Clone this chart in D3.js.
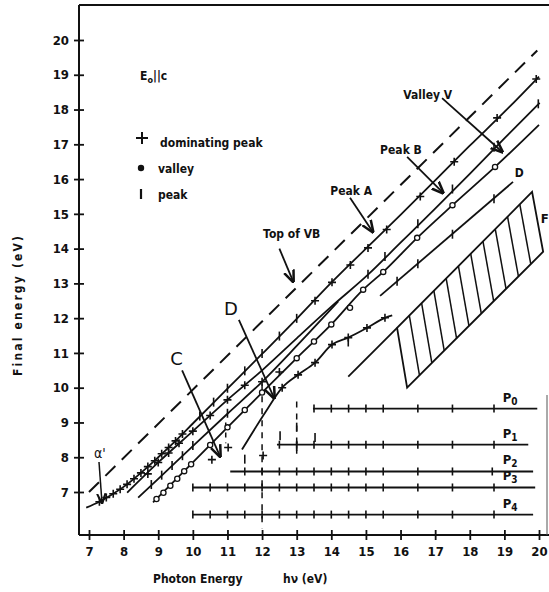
<!DOCTYPE html>
<html>
<head>
<meta charset="utf-8">
<script src="https://cdn.jsdelivr.net/npm/d3@7"></script>
<style>
  body { margin: 0; background: #fff; }
  text { font-family: "DejaVu Sans Condensed", "Liberation Sans Narrow", sans-serif; font-weight: bold; fill: #111; }
</style>
</head>
<body>
<div id="chart"></div>
<script>
// axis ticks
const xTicks = [7, 8, 9, 10, 11, 12, 13, 14, 15, 16, 17, 18, 19, 20];
const yTicks = [7, 8, 9, 10, 11, 12, 13, 14, 15, 16, 17, 18, 19, 20];

// lines, [hv, final energy]
const topOfVB = [[7.0, 7.0], [19.95, 19.7]];
const peakA = [[6.92, 6.55], [7.3, 6.72], [7.7, 6.95], [8.1, 7.22], [8.5, 7.55], [9.0, 8.0], [9.5, 8.47], [10, 8.97], [11, 9.97], [12, 10.97], [13, 11.98], [14, 13.02], [15, 14.0], [16, 14.97], [17, 15.96], [18, 16.96], [19, 17.93], [20, 18.95]];
const peakB = [[8.1, 6.98], [9, 7.85], [10, 8.75], [11, 9.65], [12, 10.5], [13, 11.42], [14, 12.33], [15.06, 13.25], [16, 14.17], [17, 15.15], [18, 16.15], [19, 17.17], [20.02, 18.19]];
const sideLine = [[8.42, 6.84], [9, 7.38], [10, 8.32], [11, 9.25], [12, 10.17], [13, 11.2], [14.2, 12.48]];
const valleyLine = [[8.85, 6.7], [10, 7.85], [11, 8.86], [12, 9.86], [13, 10.85], [14, 11.82], [14.92, 12.82], [15.5, 13.33], [16.48, 14.31], [17.5, 15.25], [18.73, 16.35], [20, 17.56]];
const lineD = [[15.41, 12.64], [19.25, 15.92]];
const lowerCurve = [[11.42, 8.22], [12.1, 9.3], [12.58, 10.0], [13.04, 10.37], [13.53, 10.72], [14.02, 11.24], [14.49, 11.44], [15.03, 11.72], [15.55, 12.01], [15.76, 12.08]];
const edgeLine = [[14.49, 10.32], [15.9, 11.72]];
const regionF = [[15.9, 11.72], [16.19, 10.0], [20.12, 13.91], [19.8, 15.63]];

// markers
const domPeaks = [[7.3, 6.72], [7.5, 6.84], [7.7, 6.95], [7.9, 7.08], [8.1, 7.22], [8.3, 7.38], [8.5, 7.55], [8.7, 7.73], [8.9, 7.9], [9.1, 8.1], [9.3, 8.28], [9.5, 8.47], [9.7, 8.67],
  [8.7, 7.52], [9.0, 7.85], [9.3, 8.12], [9.6, 8.4], [10.0, 8.75], [10.5, 9.2], [11.0, 9.65], [11.5, 10.07], [12.0, 10.17], [12.5, 10.45],
  [13.53, 12.5], [14.02, 13.03], [14.55, 13.53], [15.06, 14.02], [15.6, 14.55], [16.57, 15.5], [17.55, 16.5], [18.79, 17.76], [19.92, 18.88],
  [12.58, 10.0], [13.04, 10.37], [13.53, 10.72], [14.02, 11.24], [14.49, 11.44], [15.03, 11.72], [15.55, 12.01],
  [10.55, 7.93], [11.02, 8.28], [12.03, 8.05]];
const valleys = [[8.95, 6.8], [9.15, 6.98], [9.35, 7.18], [9.55, 7.38], [9.75, 7.6], [9.95, 7.8], [10.5, 8.35], [11.0, 8.86], [11.5, 9.36], [12.0, 9.86], [13.0, 10.85], [13.5, 11.33], [14.0, 11.82], [14.54, 12.3], [14.92, 12.82], [15.5, 13.33], [16.48, 14.31], [17.5, 15.25], [18.73, 16.35]];
const peaks = [[10.2, 9.17], [10.6, 9.57], [11.0, 9.97], [11.5, 10.47], [12.0, 10.97], [12.5, 11.47], [13.0, 11.98],
  [8.8, 7.2], [9.1, 7.47], [9.4, 7.75], [9.7, 8.03], [10.0, 8.32], [11.0, 9.25],
  [15.06, 13.25], [15.55, 13.76], [16.5, 14.7], [17.5, 15.7], [18.7, 16.9], [19.98, 18.15],
  [15.9, 13.05], [16.5, 13.55], [17.5, 14.4], [18.7, 15.42], [14.49, 11.3],
  [11.5, 7.93], [12.52, 8.6], [13.0, 8.85], [13.0, 8.3], [13.53, 8.55]];

// horizontal P lines
const pNames = ["P0", "P1", "P2", "P3", "P4"];
const pEnergy = [9.4, 8.36, 7.59, 7.13, 6.35];
const pStart = [13.47, 12.43, 11.08, 10.0, 10.0];
const pEnd = [19.95, 19.69, 19.83, 19.89, 19.83];
const pTicks = [
  [13.5, 14, 14.5, 15, 15.5, 16.5, 17.5, 18.7],
  [12.5, 13, 13.5, 14, 14.5, 15, 15.5, 16.5, 17.5, 18.7],
  [11.5, 12, 12.5, 13, 13.5, 14, 14.5, 15, 15.5, 16.5, 17.5, 18.65],
  [10, 10.5, 11, 11.5, 12, 12.5, 13, 13.5, 14, 14.5, 15, 15.5, 16.5, 17.5, 18.7],
  [10, 10.5, 11, 11.5, 12, 12.5, 13, 13.5, 14, 14.5, 15, 15.5, 16.5, 17.5, 18.7]
];

// annotations: label, label position, arrow from, arrow to (hv, E)
const notes = [
  { text: "Top of VB", at: [12.03, 14.3], from: [12.5, 14.0], to: [12.9, 13.05] },
  { text: "Peak A", at: [13.97, 15.55], from: [14.54, 15.46], to: [15.2, 14.48] },
  { text: "Peak B", at: [15.41, 16.72], from: [16.19, 16.64], to: [17.23, 15.6] },
  { text: "Valley V", at: [16.08, 18.3], from: [17.2, 18.33], to: [18.94, 16.78] },
  { text: "C", at: [9.35, 10.65], from: [9.69, 10.5], to: [10.79, 8.02], big: true },
  { text: "D", at: [10.9, 12.1], from: [11.33, 11.95], to: [12.35, 9.7], big: true }
];

const W = 549, H = 592;
const x = d3.scaleLinear().domain([7, 20]).range([89, 539]);
const y = d3.scaleLinear().domain([7, 20]).range([492, 40]);
const x0 = 79, y0 = 535;

const svg = d3.select("#chart").append("svg").attr("width", W).attr("height", H);

// frame
svg.append("line").attr("x1", x0).attr("x2", x0).attr("y1", 5).attr("y2", y0).attr("stroke", "#111").attr("stroke-width", 2);
svg.append("line").attr("x1", x0).attr("x2", W).attr("y1", y0).attr("y2", y0).attr("stroke", "#111").attr("stroke-width", 2);
svg.append("line").attr("x1", x0).attr("x2", W).attr("y1", 5).attr("y2", 5).attr("stroke", "#111").attr("stroke-width", 2);
svg.append("line").attr("x1", 547).attr("x2", 547).attr("y1", 395).attr("y2", y0).attr("stroke", "#555").attr("stroke-width", 1);

// ticks
const xAxis = d3.axisBottom(x).tickValues(xTicks).tickSizeInner(5).tickSizeOuter(0).tickPadding(6);
const gx = svg.append("g").attr("transform", `translate(0,${y0})`).call(xAxis);
gx.select(".domain").remove();
gx.selectAll(".tick line").attr("y1", -5).attr("stroke-width", 1.8).attr("stroke", "#111");
gx.selectAll(".tick text").attr("font-size", 13).attr("dy", "0.75em");

const yAxis = d3.axisLeft(y).tickValues(yTicks).tickSizeInner(5).tickSizeOuter(0).tickPadding(5);
const gy = svg.append("g").attr("transform", `translate(${x0},0)`).call(yAxis);
gy.select(".domain").remove();
gy.selectAll(".tick line").attr("x1", 5).attr("stroke-width", 1.8).attr("stroke", "#111");
gy.selectAll(".tick text").attr("font-size", 13);

svg.selectAll(".tick text").style("font-family", '"DejaVu Sans Condensed", sans-serif').style("font-weight", "bold");

// axis titles
svg.append("text").attr("transform", "translate(22,306) rotate(-90)").attr("text-anchor", "middle").attr("font-size", 12)
  .attr("textLength", 140).attr("lengthAdjust", "spacing").text("Final energy (eV)");
svg.append("text").attr("x", 153).attr("y", 583).attr("font-size", 12).text("Photon Energy");
svg.append("text").attr("x", 283).attr("y", 583).attr("font-size", 12).text("hν (eV)");

const line = d3.line().x(d => x(d[0])).y(d => y(d[1]));
const curve = d3.line().x(d => x(d[0])).y(d => y(d[1])).curve(d3.curveMonotoneX);

svg.append("path").attr("d", line(topOfVB)).attr("fill", "none").attr("stroke", "#111").attr("stroke-width", 2).attr("stroke-dasharray", "14,9");
[peakA, peakB, sideLine, valleyLine, lineD, lowerCurve, edgeLine].forEach(l => {
  svg.append("path").attr("d", curve(l)).attr("fill", "none").attr("stroke", "#111").attr("stroke-width", 1.8);
});

// region F with hatching
svg.append("path").attr("d", line(regionF) + "Z").attr("fill", "none").attr("stroke", "#111").attr("stroke-width", 1.8);
const [tl, bl, br, tr] = regionF;
d3.range(1, 11).forEach(i => {
  const t = i / 11;
  const a = [tl[0] + (tr[0] - tl[0]) * t, tl[1] + (tr[1] - tl[1]) * t];
  const b = [bl[0] + (br[0] - bl[0]) * t, bl[1] + (br[1] - bl[1]) * t];
  svg.append("path").attr("d", line([a, b])).attr("stroke", "#111").attr("stroke-width", 1.5);
});
svg.append("text").attr("x", x(20.05)).attr("y", y(14.75)).attr("font-size", 13).text("F");
svg.append("text").attr("x", x(19.3)).attr("y", y(16.05)).attr("font-size", 12).text("D");

// P lines
pNames.forEach((name, i) => {
  const py = y(pEnergy[i]);
  svg.append("line").attr("x1", x(pStart[i])).attr("x2", x(pEnd[i])).attr("y1", py).attr("y2", py).attr("stroke", "#111").attr("stroke-width", 1.8);
  pTicks[i].forEach(t => {
    svg.append("line").attr("x1", x(t)).attr("x2", x(t)).attr("y1", py - 4).attr("y2", py + 4).attr("stroke", "#111").attr("stroke-width", 1.6);
  });
  const lab = svg.append("text").attr("x", x(18.95)).attr("y", py - 7).attr("font-size", 13).text(name[0]);
  lab.append("tspan").attr("font-size", 10).attr("dy", 3).text(name[1]);
});

// dashed verticals
svg.append("line").attr("x1", x(12)).attr("x2", x(12)).attr("y1", y(10.1)).attr("y2", y(5.95)).attr("stroke", "#111").attr("stroke-width", 1.5).attr("stroke-dasharray", "6,6");
svg.append("line").attr("x1", x(13)).attr("x2", x(13)).attr("y1", y(9.6)).attr("y2", y(8.1)).attr("stroke", "#111").attr("stroke-width", 1.5).attr("stroke-dasharray", "6,6");
svg.append("line").attr("x1", x(10.95)).attr("x2", x(10.95)).attr("y1", y(9.0)).attr("y2", y(8.4)).attr("stroke", "#111").attr("stroke-width", 1.5).attr("stroke-dasharray", "5,5");

// markers
const plusPath = "M-4,0H4M0,-4V4";
svg.selectAll(".dom").data(domPeaks).enter().append("path").attr("class", "dom")
  .attr("transform", d => `translate(${x(d[0])},${y(d[1])})`).attr("d", plusPath).attr("stroke", "#111").attr("stroke-width", 1.6);
svg.selectAll(".val").data(valleys).enter().append("circle").attr("class", "val")
  .attr("cx", d => x(d[0])).attr("cy", d => y(d[1])).attr("r", 2.6).attr("fill", "#fff").attr("stroke", "#111").attr("stroke-width", 1.3);
svg.selectAll(".pk").data(peaks).enter().append("line").attr("class", "pk")
  .attr("x1", d => x(d[0])).attr("x2", d => x(d[0])).attr("y1", d => y(d[1]) - 5).attr("y2", d => y(d[1]) + 4).attr("stroke", "#111").attr("stroke-width", 1.6);

// annotations
svg.append("defs").append("marker").attr("id", "arr").attr("viewBox", "0 0 10 10").attr("refX", 9).attr("refY", 5)
  .attr("markerWidth", 7).attr("markerHeight", 7).attr("orient", "auto")
  .append("path").attr("d", "M0,1L10,5L0,9").attr("fill", "none").attr("stroke", "#111").attr("stroke-width", 2);
notes.forEach(n => {
  svg.append("text").attr("x", x(n.at[0])).attr("y", y(n.at[1])).attr("font-size", n.big ? 18 : 12)
    .style("font-weight", n.big ? "normal" : "bold").style("font-family", n.big ? "DejaVu Sans, sans-serif" : null).text(n.text);
  svg.append("line").attr("x1", x(n.from[0])).attr("y1", y(n.from[1])).attr("x2", x(n.to[0])).attr("y2", y(n.to[1]))
    .attr("stroke", "#111").attr("stroke-width", 1.8).attr("marker-end", "url(#arr)");
});
// alpha'
svg.append("text").attr("x", 94).attr("y", 458).attr("font-size", 14).style("font-weight", "normal").text("α'");
svg.append("line").attr("x1", 99).attr("y1", 462).attr("x2", 102).attr("y2", 503).attr("stroke", "#111").attr("stroke-width", 1.5).attr("marker-end", "url(#arr)");

// legend
const eo = svg.append("text").attr("x", 140).attr("y", 80).attr("font-size", 12).text("E");
eo.append("tspan").attr("font-size", 9).attr("dy", 3).text("o");
eo.append("tspan").attr("dy", -3).text("||c");
svg.append("path").attr("transform", "translate(142,138)").attr("d", "M-6,0H6M0,-6V6").attr("stroke", "#111").attr("stroke-width", 2);
svg.append("text").attr("x", 160).attr("y", 147).attr("font-size", 12).text("dominating peak");
svg.append("circle").attr("cx", 141).attr("cy", 168).attr("r", 3.2).attr("fill", "#111");
svg.append("text").attr("x", 158).attr("y", 173).attr("font-size", 12).text("valley");
svg.append("line").attr("x1", 141).attr("x2", 141).attr("y1", 189).attr("y2", 199).attr("stroke", "#111").attr("stroke-width", 2.2);
svg.append("text").attr("x", 158).attr("y", 199).attr("font-size", 12).text("peak");
</script>
</body>
</html>
